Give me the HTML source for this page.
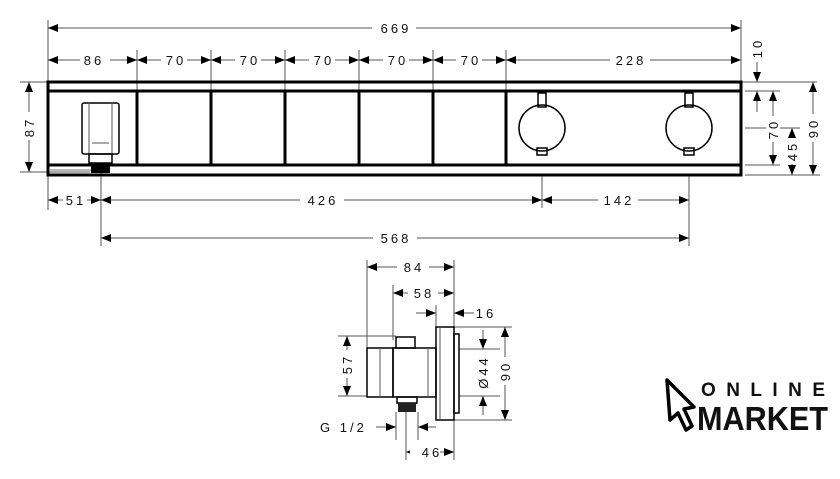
<!DOCTYPE html>
<html><head><meta charset="utf-8"><style>
html,body{margin:0;padding:0;background:#fff;width:840px;height:479px;overflow:hidden}
svg{display:block}
text{font-family:"Liberation Sans",sans-serif;font-size:13px;fill:#111;letter-spacing:3px}
.t{stroke:#555;stroke-width:1;fill:none}
.k{stroke:#000;stroke-width:3;fill:none}
.m{stroke:#000;stroke-width:1.5;fill:none}
</style></head><body>
<svg width="840" height="479" viewBox="0 0 840 479" xmlns="http://www.w3.org/2000/svg">
<defs>
<marker id="a" viewBox="0 0 10 10" refX="10" refY="5" markerWidth="10" markerHeight="10" markerUnits="userSpaceOnUse" orient="auto-start-reverse"><path d="M0,1 L10,5 L0,9z" fill="#000"/></marker>
</defs>
<g class="t">
<line x1="48" y1="20" x2="48" y2="210"/><line x1="741" y1="20" x2="741" y2="82"/>
<line x1="137" y1="50" x2="137" y2="91"/><line x1="211" y1="50" x2="211" y2="91"/><line x1="285" y1="50" x2="285" y2="91"/><line x1="359" y1="50" x2="359" y2="91"/><line x1="433" y1="50" x2="433" y2="91"/><line x1="506" y1="50" x2="506" y2="91"/>
<line x1="20" y1="82" x2="48" y2="82"/><line x1="20" y1="172" x2="90" y2="172"/>
<line x1="101" y1="172" x2="101" y2="246"/><line x1="542" y1="175" x2="542" y2="208"/><line x1="689" y1="175" x2="689" y2="246"/>
<line x1="741" y1="82" x2="817" y2="82"/><line x1="745" y1="91" x2="780" y2="91"/><line x1="745" y1="128" x2="800" y2="128"/><line x1="745" y1="165" x2="780" y2="165"/><line x1="745" y1="175" x2="820" y2="175"/>
</g>
<g class="t" marker-start="url(#a)" marker-end="url(#a)">
<line x1="48" y1="28" x2="741" y2="28"/>
<line x1="48" y1="60" x2="137" y2="60"/><line x1="137" y1="60" x2="211" y2="60"/><line x1="211" y1="60" x2="285" y2="60"/><line x1="285" y1="60" x2="359" y2="60"/><line x1="359" y1="60" x2="433" y2="60"/><line x1="433" y1="60" x2="506" y2="60"/><line x1="506" y1="60" x2="741" y2="60"/>
<line x1="29" y1="82" x2="29" y2="172"/>
<line x1="48" y1="200" x2="101" y2="200"/><line x1="101" y1="200" x2="542" y2="200"/><line x1="542" y1="200" x2="689" y2="200"/>
<line x1="101" y1="238" x2="689" y2="238"/>
<line x1="773" y1="91" x2="773" y2="165"/><line x1="792" y1="128" x2="792" y2="175"/><line x1="813" y1="82" x2="813" y2="175"/>
</g>
<line class="t" x1="757" y1="62" x2="757" y2="82" marker-end="url(#a)"/>
<line class="t" x1="757" y1="112" x2="757" y2="91" marker-end="url(#a)"/>
<g text-anchor="middle">
<rect x="372" y="20" width="44" height="16" fill="#fff"/><text x="396" y="33">669</text>
<rect x="80" y="52" width="30" height="16" fill="#fff"/><text x="94" y="65">86</text>
<rect x="161" y="52" width="26" height="16" fill="#fff"/><text x="176" y="65">70</text>
<rect x="235" y="52" width="26" height="16" fill="#fff"/><text x="250" y="65">70</text>
<rect x="309" y="52" width="26" height="16" fill="#fff"/><text x="324" y="65">70</text>
<rect x="383" y="52" width="26" height="16" fill="#fff"/><text x="398" y="65">70</text>
<rect x="456" y="52" width="26" height="16" fill="#fff"/><text x="471" y="65">70</text>
<rect x="610" y="52" width="40" height="16" fill="#fff"/><text x="631" y="65">228</text>
<rect x="63" y="192" width="24" height="16" fill="#fff"/><text x="76" y="205">51</text>
<rect x="300" y="192" width="44" height="16" fill="#fff"/><text x="323" y="205">426</text>
<rect x="598" y="192" width="40" height="16" fill="#fff"/><text x="619" y="205">142</text>
<rect x="373" y="230" width="44" height="16" fill="#fff"/><text x="396" y="243">568</text>
</g>
<rect x="22" y="112" width="14" height="28" fill="#fff"/><text transform="translate(34,127) rotate(-90)" text-anchor="middle">87</text>
<rect x="750" y="36" width="14" height="24" fill="#fff"/><text transform="translate(762,48) rotate(-90)" text-anchor="middle">10</text>
<rect x="766" y="116" width="14" height="26" fill="#fff"/><text transform="translate(778,129) rotate(-90)" text-anchor="middle">70</text>
<rect x="785" y="138" width="14" height="26" fill="#fff"/><text transform="translate(797,151) rotate(-90)" text-anchor="middle">45</text>
<rect x="806" y="114" width="14" height="28" fill="#fff"/><text transform="translate(818,128) rotate(-90)" text-anchor="middle">90</text>
<rect class="k" x="48" y="82" width="693" height="93"/>
<line class="k" x1="48" y1="91" x2="741" y2="91"/><line class="k" x1="48" y1="165" x2="741" y2="165"/>
<g class="k"><line x1="137" y1="91" x2="137" y2="165"/><line x1="211" y1="91" x2="211" y2="165"/><line x1="285" y1="91" x2="285" y2="165"/><line x1="359" y1="91" x2="359" y2="165"/><line x1="433" y1="91" x2="433" y2="165"/><line x1="506" y1="91" x2="506" y2="165"/></g>
<rect class="m" x="82" y="103" width="37" height="51" rx="2" fill="#fff"/>
<line class="t" x1="89" y1="103" x2="89" y2="154"/><line class="t" x1="112" y1="103" x2="112" y2="154"/>
<line class="t" x1="92" y1="143" x2="109" y2="143"/>
<rect class="m" x="89" y="154" width="23" height="9" fill="#fff"/>
<rect x="91" y="163" width="19" height="10" fill="#000"/>
<line x1="50" y1="170" x2="91" y2="170" stroke="#777" stroke-width="1"/>
<g class="m" fill="#fff">
<rect x="538" y="93" width="8" height="14"/><rect x="537" y="148" width="10" height="7"/>
<circle cx="542" cy="128" r="23"/>
<rect x="685" y="93" width="8" height="14"/><rect x="684" y="148" width="10" height="7"/>
<circle cx="689" cy="128" r="23"/>
</g>
<g class="t">
<line x1="367" y1="260" x2="367" y2="396"/><line x1="454" y1="260" x2="454" y2="460"/>
<line x1="393" y1="285" x2="393" y2="340"/><line x1="436" y1="305" x2="436" y2="327"/>
<line x1="338" y1="336" x2="396" y2="336"/><line x1="338" y1="396" x2="367" y2="396"/>
<line x1="454" y1="327" x2="512" y2="327"/><line x1="454" y1="420" x2="512" y2="420"/>
<line x1="459" y1="349" x2="500" y2="349"/><line x1="459" y1="396" x2="500" y2="396"/>
<line x1="396" y1="412" x2="396" y2="440"/><line x1="418" y1="412" x2="418" y2="440"/><line x1="406" y1="412" x2="406" y2="460"/>
</g>
<g class="t" marker-start="url(#a)" marker-end="url(#a)">
<line x1="367" y1="267" x2="454" y2="267"/><line x1="393" y1="293" x2="454" y2="293"/>
<line x1="347" y1="336" x2="347" y2="396"/><line x1="505" y1="327" x2="505" y2="420"/>
<line x1="406" y1="452" x2="454" y2="452"/>
</g>
<g class="t" marker-end="url(#a)">
<line x1="416" y1="313" x2="436" y2="313"/><line x1="474" y1="313" x2="454" y2="313"/>
<line x1="483" y1="330" x2="483" y2="349"/><line x1="483" y1="415" x2="483" y2="396"/>
<line x1="376" y1="427" x2="396" y2="427"/><line x1="436" y1="427" x2="418" y2="427"/>
</g>
<g text-anchor="middle">
<rect x="397" y="259" width="32" height="16" fill="#fff"/><text x="414" y="272">84</text>
<rect x="408" y="285" width="30" height="16" fill="#fff"/><text x="424" y="298">58</text>
<text x="486" y="318">16</text>
<rect x="410" y="444" width="30" height="16" fill="#fff"/><text x="432" y="457">46</text>
</g>
<text x="320" y="432">G 1/2</text>
<rect x="340" y="350" width="14" height="28" fill="#fff"/><text transform="translate(352,364) rotate(-90)" text-anchor="middle">57</text>
<text transform="translate(488,372) rotate(-90)" text-anchor="middle">Ø44</text>
<rect x="498" y="357" width="14" height="28" fill="#fff"/><text transform="translate(510,371) rotate(-90)" text-anchor="middle">90</text>
<g class="m" fill="#fff">
<rect x="367" y="348" width="26" height="49"/>
<rect x="396" y="337" width="19" height="11"/>
<rect x="393" y="348" width="43" height="49"/>
<rect x="454" y="334" width="5" height="79"/>
<rect x="436" y="327" width="18" height="93"/>
</g>
<line class="t" x1="380" y1="348" x2="380" y2="397"/><line class="t" x1="428" y1="348" x2="428" y2="397"/>
<line class="t" x1="440" y1="327" x2="440" y2="420"/>
<rect class="m" x="397" y="397" width="20" height="6" fill="#fff"/>
<rect x="398" y="403" width="18" height="9" fill="#222"/>
<path d="M667,380 L694,407 L684,409 L692,426 L686,430 L678,413 L670,420 Z" fill="none" stroke="#000" stroke-width="3.5" stroke-linejoin="round"/>
<text x="701" y="396" textLength="124" lengthAdjust="spacing" style="font-size:19px;font-weight:bold;letter-spacing:0">ONLINE</text>
<text x="697" y="430" textLength="131" lengthAdjust="spacingAndGlyphs" style="font-size:33px;font-weight:bold;letter-spacing:0">MARKET</text>
</svg>
</body></html>
